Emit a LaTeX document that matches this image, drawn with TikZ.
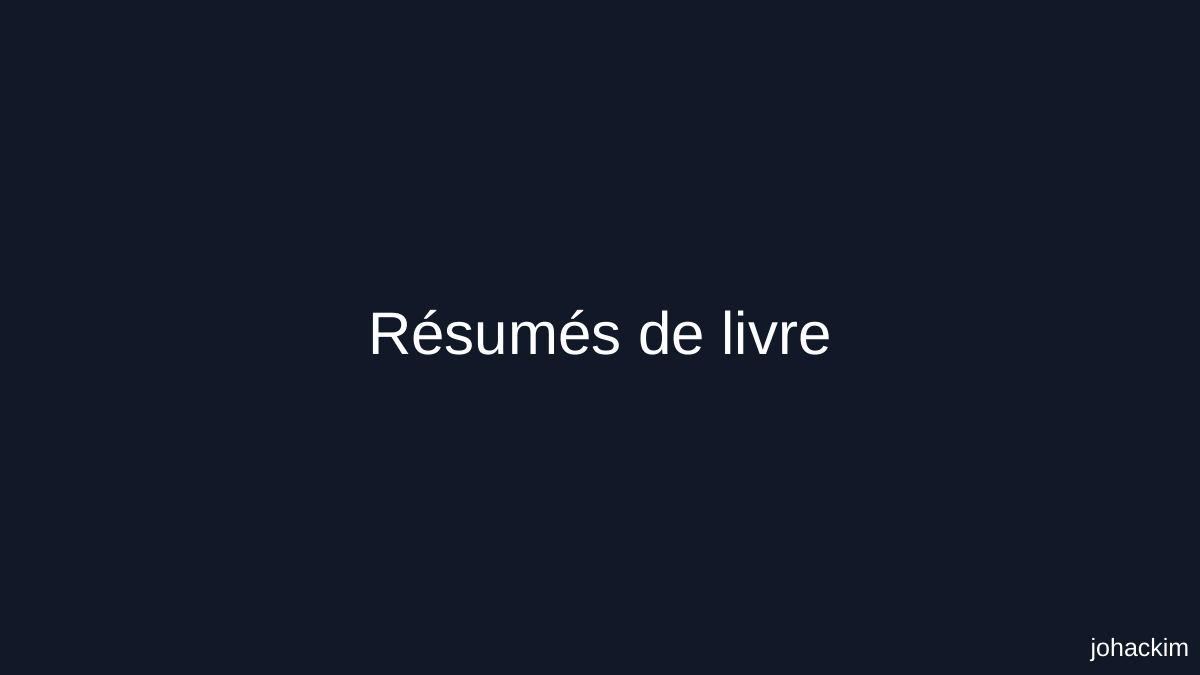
\documentclass[tikz,border=0pt]{standalone}
\usepackage{fontspec}
\setmainfont{Liberation Sans}
\definecolor{bg}{HTML}{111827}
\tikzset{
  titletext/.style={text=white, font=\fontsize{60}{72}\selectfont, inner sep=0pt, anchor=base},
  signtext/.style={text=white, font=\fontsize{25}{30}\selectfont, inner sep=0pt, anchor=base east}
}
\begin{document}
\begin{tikzpicture}[x=1pt,y=1pt]
  \fill[bg] (0,0) rectangle (1200,675);
  \useasboundingbox (0,0) rectangle (1200,675);
  \node[titletext] (title) at (600,320) {Résumés de livre};
  \node[signtext] (sign) at (1189.5,19) {johackim};
\end{tikzpicture}
\end{document}
